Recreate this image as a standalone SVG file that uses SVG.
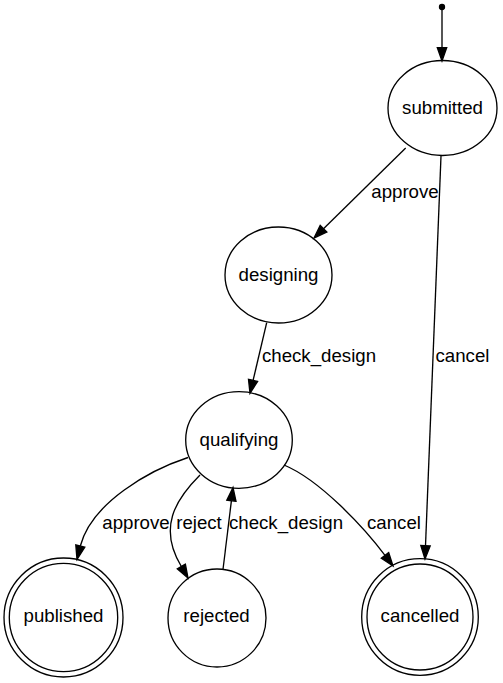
<svg xmlns="http://www.w3.org/2000/svg" width="503" height="683" viewBox="0 0 503 683">
<style>
  .node ellipse, .node circle { fill: none; stroke: #000; stroke-width: 1.33; }
  .edge path, .edge line { fill: none; stroke: #000; stroke-width: 1.33; }
  .edge polygon { fill: #000; stroke: #000; stroke-width: 1.33; }
  text { font-family: "Liberation Sans", Arial, Helvetica, sans-serif; font-size: 18.67px; fill: #000; }
  .node text { text-anchor: middle; }
  .lbl { text-anchor: middle; }
</style>
<rect width="503" height="683" fill="#fff"/>
<g id="start" class="node">
  <circle cx="442" cy="7" r="2.5" style="fill:#000"/>
</g>
<g id="submitted" class="node">
  <ellipse cx="442.5" cy="108" rx="54.5" ry="47.5"/>
  <text x="442.5" y="114.3">submitted</text>
</g>
<g id="designing" class="node">
  <ellipse cx="278.5" cy="275" rx="53.5" ry="48"/>
  <text x="278.5" y="281.3">designing</text>
</g>
<g id="qualifying" class="node">
  <ellipse cx="239" cy="440" rx="53.3" ry="48.3"/>
  <text x="239" y="446">qualifying</text>
</g>
<g id="published" class="node">
  <circle cx="63.5" cy="617.5" r="59.5"/>
  <circle cx="63.5" cy="617.5" r="54.2"/>
  <text x="63.5" y="622">published</text>
</g>
<g id="rejected" class="node">
  <circle cx="217" cy="618" r="49"/>
  <text x="216.5" y="622">rejected</text>
</g>
<g id="cancelled" class="node">
  <circle cx="420" cy="617" r="58.3"/>
  <circle cx="420" cy="617" r="53"/>
  <text x="420" y="622">cancelled</text>
</g>
<g id="edges" class="edge">
  <!-- start -> submitted -->
  <line x1="442" y1="9" x2="442" y2="47.7"/>
  <polygon points="437.3,47.7 446.7,47.7 442,61"/>
  <!-- submitted -> designing -->
  <line x1="405.7" y1="148" x2="323.5" y2="228.7"/>
  <polygon points="326.8,232 320.2,225.4 314,238"/>
  <text class="lbl" x="405" y="198">approve</text>
  <!-- submitted -> cancelled -->
  <line x1="441" y1="156" x2="425.5" y2="545.7"/>
  <polygon points="430.2,545.9 420.8,545.5 425,559"/>
  <text class="lbl" x="462.5" y="362">cancel</text>
  <!-- designing -> qualifying -->
  <line x1="266.7" y1="322.7" x2="253.1" y2="380.3"/>
  <polygon points="257.6,381.4 248.5,379.3 250,393.3"/>
  <text class="lbl" x="319" y="362">check_design</text>
  <!-- qualifying -> published -->
  <path d="M188,457.5 C150,470 92,502 80.3,546"/>
  <polygon points="84.8,547.2 75.8,544.9 77,559.5"/>
  <text class="lbl" x="136" y="529">approve</text>
  <!-- qualifying -> rejected -->
  <path d="M200,475 C175,500 158,528 181.35,566.5"/>
  <polygon points="185.4,564.2 177.3,568.8 188,578"/>
  <text class="lbl" x="199" y="529">reject</text>
  <!-- rejected -> qualifying -->
  <line x1="223" y1="569.5" x2="231.4" y2="500.7"/>
  <polygon points="236,501.3 226.8,500.1 233,487.5"/>
  <text class="lbl" x="286" y="529">check_design</text>
  <!-- qualifying -> cancelled -->
  <path d="M284,465 C320,480 364,527.4 385,555.4"/>
  <polygon points="388.7,552.6 381.3,558.2 393,566"/>
  <text class="lbl" x="394" y="529">cancel</text>
</g>
</svg>
